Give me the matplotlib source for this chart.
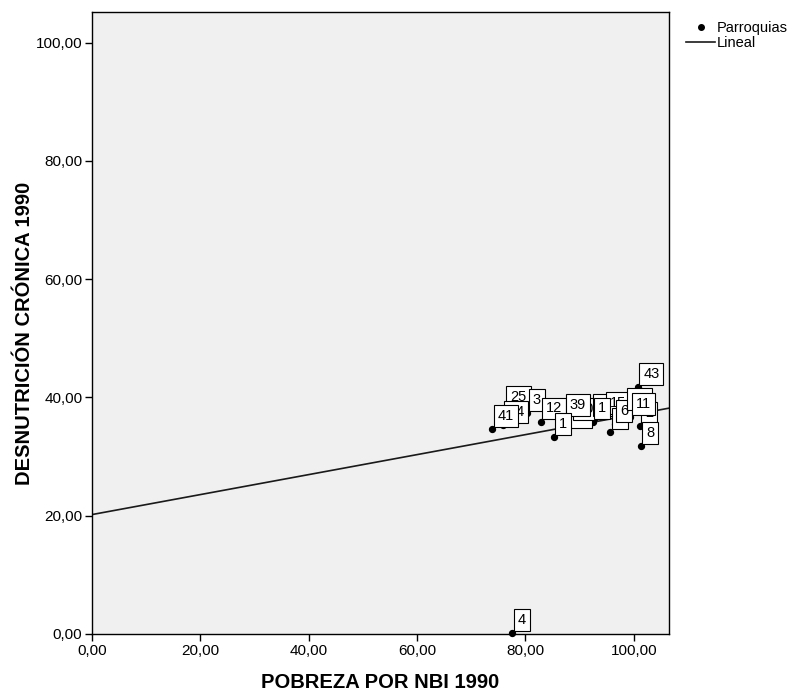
import matplotlib
matplotlib.use('Agg')
import matplotlib.pyplot as plt
from matplotlib.lines import Line2D
from matplotlib.ticker import FuncFormatter

plt.rcParams['font.family'] = ['Liberation Sans', 'DejaVu Sans']

# parroquias: pobreza NBI 1990 (x), desnutricion cronica 1990 (y), label
nbi = [76.2, 75.8, 73.9, 80.3, 87.6, 88.5, 82.8, 87.1, 85.2,
       92.1, 94.5, 92.4, 95.6, 96.5, 98.5, 101.1, 99.3, 100.7, 101.3, 77.5]
desnut = [37.9, 35.3, 34.6, 37.4, 34.5, 35.8, 35.9, 36.5, 33.3,
          36.5, 36.8, 35.9, 34.2, 35.5, 37.5, 35.1, 36.7, 41.8, 31.8, 0.1]
labels = ['25', '24', '41', '3', '38', '30', '12', '39', '1',
          '10', '15', '1', '5', '6', '20', '2', '11', '43', '8', '4']

# fitted linear line
intercept = 20.2
slope = 0.169

fig = plt.figure(figsize=(7.94, 6.98), dpi=100)
ax = fig.add_axes([0.1159, 0.0917, 0.7267, 0.8911])
ax.set_facecolor('#f0f0f0')
ax.set_xlim(0, 106.5)
ax.set_ylim(0, 105.2)

xs = [0, 106.5]
ax.plot(xs, [intercept + slope * x for x in xs], color='#1a1a1a', lw=1.2, zorder=2)
ax.scatter(nbi, desnut, s=18, color='black', zorder=3, clip_on=False)

for i, (x, y, t) in enumerate(zip(nbi, desnut, labels)):
    ax.annotate(t, (x, y), xytext=(4, 4.5), textcoords='offset points',
                ha='left', va='bottom', fontsize=10.5, zorder=4 + i,
                bbox=dict(boxstyle='square,pad=0.27', fc='white', ec='black', lw=0.8))

ax.set_xticks([0, 20, 40, 60, 80, 100])
ax.set_yticks([0, 20, 40, 60, 80, 100])
fmt = FuncFormatter(lambda v, p: f'{v:.2f}'.replace('.', ','))
ax.xaxis.set_major_formatter(fmt)
ax.yaxis.set_major_formatter(fmt)
ax.tick_params(direction='out', length=5, width=1, labelsize=11, colors='black', pad=2)
for s in ax.spines.values():
    s.set_linewidth(1)

ax.set_xlabel('POBREZA POR NBI 1990', fontsize=14.5, fontweight='bold', labelpad=11)
ax.set_ylabel('DESNUTRICIÓN CRÓNICA 1990', fontsize=14.5, fontweight='bold')
ax.yaxis.set_label_coords(-0.100, 0.484)

handles = [Line2D([], [], marker='o', ls='none', color='black', markersize=4),
           Line2D([], [], color='#1a1a1a', lw=1.2)]
fig.legend(handles, ['Parroquias', 'Lineal'], loc='upper left',
           bbox_to_anchor=(0.855, 0.98), frameon=False, fontsize=10.5,
           handlelength=2.0, handletextpad=0.1, labelspacing=0.05, borderpad=0)

fig.savefig('out.png', dpi=100)
